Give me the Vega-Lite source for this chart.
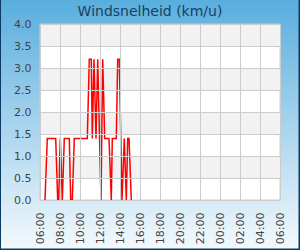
{
  "$schema": "https://vega.github.io/schema/vega-lite/v6.json",
  "width": 240,
  "height": 176,
  "autosize": {"type": "none"},
  "padding": {"left": 40, "top": 24, "right": 20, "bottom": 50},
  "background": "#9fd0ec",
  "view": {"stroke": null},
  "config": {
    "axis": {
      "labelFont": "DejaVu Sans",
      "labelFontSize": 11,
      "labelColor": "#444444",
      "gridColor": "#cccccc",
      "gridOpacity": 1,
      "gridWidth": 1,
      "domain": false,
      "ticks": false
    }
  },
  "layer": [
    {
      "data": {"values": [{}]},
      "mark": {
        "type": "rect",
        "fill": {
          "gradient": "linear",
          "x1": 0, "y1": 0, "x2": 0, "y2": 1,
          "stops": [
            {"offset": 0, "color": "#55acdd"},
            {"offset": 1, "color": "#f4f9fd"}
          ]
        },
        "stroke": "#0b3a66",
        "strokeWidth": 2
      },
      "encoding": {
        "x": {"value": -40},
        "x2": {"value": 259.5},
        "y": {"value": -30},
        "y2": {"value": 225.5}
      }
    },
    {
      "data": {"values": [{"title": "Windsnelheid (km/u)"}]},
      "mark": {
        "type": "text",
        "align": "center",
        "baseline": "middle",
        "font": "DejaVu Sans",
        "fontSize": 14,
        "color": "#1b3f5e"
      },
      "encoding": {
        "text": {"field": "title"},
        "x": {"value": 110},
        "y": {"value": -12}
      }
    },
    {
      "data": {"values": [{}]},
      "mark": {"type": "rect", "fill": "#ffffff", "stroke": "#cccccc", "strokeWidth": 1},
      "encoding": {
        "x": {"value": 0},
        "x2": {"value": 240},
        "y": {"value": 0},
        "y2": {"value": 176}
      }
    },
    {
      "data": {"values": [
        {"lo": 0.5, "hi": 1.0},
        {"lo": 1.5, "hi": 2.0},
        {"lo": 2.5, "hi": 3.0},
        {"lo": 3.5, "hi": 4.0}
      ]},
      "mark": {"type": "rect", "fill": "#f2f2f2"},
      "encoding": {
        "y": {
          "field": "lo",
          "type": "quantitative",
          "scale": {"domain": [0, 4], "nice": false},
          "axis": {
            "title": null,
            "values": [0, 0.5, 1, 1.5, 2, 2.5, 3, 3.5, 4],
            "format": ".1f",
            "labelPadding": 9,
            "labelFlush": false,
            "labelOverlap": false,
            "grid": true,
            "zindex": 1
          }
        },
        "y2": {"field": "hi"},
        "x": {"value": 0},
        "x2": {"value": 240}
      }
    },
    {
      "data": {"values": [
        {"hour": 6.5, "wind": 0},
        {"hour": 6.73, "wind": 1.4},
        {"hour": 7.57, "wind": 1.4},
        {"hour": 7.77, "wind": 0},
        {"hour": 7.87, "wind": 0},
        {"hour": 8.03, "wind": 1.4},
        {"hour": 8.23, "wind": 0},
        {"hour": 8.43, "wind": 1.4},
        {"hour": 8.93, "wind": 1.4},
        {"hour": 9.07, "wind": 0},
        {"hour": 9.23, "wind": 0},
        {"hour": 9.43, "wind": 1.4},
        {"hour": 10.73, "wind": 1.4},
        {"hour": 10.93, "wind": 3.2},
        {"hour": 11.13, "wind": 3.2},
        {"hour": 11.23, "wind": 1.4},
        {"hour": 11.4, "wind": 3.2},
        {"hour": 11.6, "wind": 1.4},
        {"hour": 11.77, "wind": 3.2},
        {"hour": 12.1, "wind": 0},
        {"hour": 12.27, "wind": 3.2},
        {"hour": 12.47, "wind": 1.4},
        {"hour": 12.9, "wind": 1.4},
        {"hour": 13.13, "wind": 0},
        {"hour": 13.23, "wind": 1.4},
        {"hour": 13.63, "wind": 1.4},
        {"hour": 13.77, "wind": 3.2},
        {"hour": 13.93, "wind": 3.2},
        {"hour": 14.2, "wind": 0},
        {"hour": 14.43, "wind": 1.4},
        {"hour": 14.63, "wind": 0},
        {"hour": 14.77, "wind": 1.4},
        {"hour": 14.9, "wind": 1.4},
        {"hour": 15.13, "wind": 0}
      ]},
      "mark": {"type": "line", "color": "#ff0000", "strokeWidth": 1.5},
      "encoding": {
        "x": {
          "field": "hour",
          "type": "quantitative",
          "scale": {"domain": [6, 30], "nice": false, "zero": false},
          "axis": {
            "title": null,
            "values": [6, 8, 10, 12, 14, 16, 18, 20, 22, 24, 26, 28, 30],
            "labelExpr": "(datum.value % 24 < 10 ? '0' : '') + (datum.value % 24) + ':00'",
            "labelAngle": -90,
            "labelPadding": 12,
            "labelFlush": false,
            "labelOverlap": false,
            "grid": true,
            "zindex": 1
          }
        },
        "y": {
          "field": "wind",
          "type": "quantitative",
          "axis": {
            "title": null,
            "values": [0, 0.5, 1, 1.5, 2, 2.5, 3, 3.5, 4],
            "format": ".1f",
            "labelPadding": 9,
            "labelFlush": false,
            "labelOverlap": false,
            "grid": true,
            "zindex": 1
          }
        }
      }
    }
  ]
}
